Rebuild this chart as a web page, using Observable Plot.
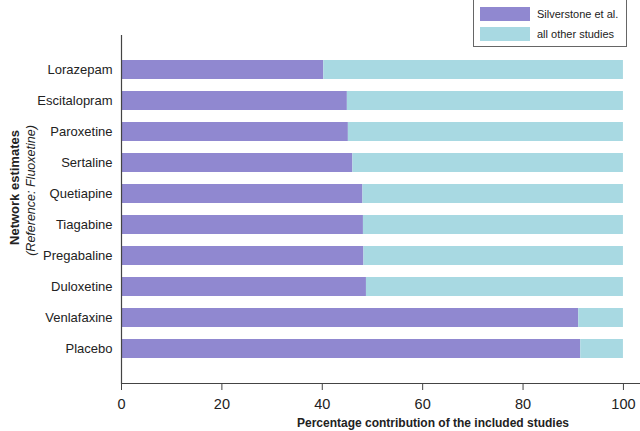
<!DOCTYPE html>
<html>
<head>
<meta charset="utf-8">
<script src="https://cdn.jsdelivr.net/npm/d3@7"></script>
<script src="https://cdn.jsdelivr.net/npm/@observablehq/plot@0.6"></script>
<style>
  html, body { margin: 0; padding: 0; background: #fff; }
  #wrap { position: relative; width: 640px; height: 431px; font-family: "Liberation Sans", Arial, sans-serif; }
  #legend { position: absolute; left: 473px; top: -1px; width: 152px; height: 46px; border: 1px solid #666; background: #fff; }
  .li { position: absolute; left: 6px; height: 14px; display: flex; align-items: center; font-size: 11px; color: #222; }
  .sw { width: 50px; height: 14px; margin-right: 7px; }
</style>
</head>
<body>
<div id="wrap"><div id="legend"></div></div>
<script>
const drugs = ["Lorazepam","Escitalopram","Paroxetine","Sertaline","Quetiapine","Tiagabine","Pregabaline","Duloxetine","Venlafaxine","Placebo"];
const silverstone = [40.3, 45.0, 45.2, 46.1, 48.1, 48.2, 48.3, 48.8, 91.1, 91.5];
const otherStudies = [59.7, 55.0, 54.8, 53.9, 51.9, 51.8, 51.7, 51.2, 8.9, 8.5];
const series = ["Silverstone et al.", "all other studies"];
const colors = ["#9088d0", "#a8d9e2"];
const xTicks = [0, 20, 40, 60, 80, 100];
const xLabel = "Percentage contribution of the included studies";
const yTitle = "Network estimates";
const ySubtitle = "(Reference: Fluoxetine)";

const data = drugs.flatMap((d, i) => [
  {drug: d, study: series[0], value: silverstone[i]},
  {drug: d, study: series[1], value: otherStudies[i]}
]);

const chart = Plot.plot({
  width: 640,
  height: 431,
  marginTop: 35,
  marginBottom: 48,
  marginLeft: 121,
  marginRight: 0,
  style: {fontFamily: "'Liberation Sans', Arial, sans-serif", color: "#222", background: "transparent"},
  x: {domain: [0, 103.4]},
  y: {domain: drugs, paddingInner: 0.4, paddingOuter: 0.68},
  color: {domain: series, range: colors},
  marks: [
    Plot.barX(data, Plot.stackX({x: "value", y: "drug", fill: "study", order: series})),
    Plot.ruleX([0], {stroke: "#444", strokeWidth: 1.2}),
    Plot.frame({anchor: "bottom", stroke: "#444", strokeWidth: 1.2}),
    Plot.axisX({ticks: xTicks, tickSize: 7, tickPadding: 8, fontSize: 14.5, label: null, stroke: "#444"}),
    Plot.axisY({tickSize: 0, tickPadding: 9, fontSize: 13, label: null}),
    Plot.text([xLabel], {frameAnchor: "bottom", dx: 52, dy: 43, fontSize: 12, fontWeight: "bold", text: d => d}),
    Plot.text([yTitle], {frameAnchor: "left", textAnchor: "middle", rotate: -90, dx: -107, dy: -22, fontSize: 13, fontWeight: "bold", text: d => d}),
    Plot.text([ySubtitle], {frameAnchor: "left", textAnchor: "middle", rotate: -90, dx: -91, dy: -19, fontSize: 12.5, fontStyle: "italic", text: d => d})
  ]
});
document.getElementById("wrap").prepend(chart);

const legend = document.getElementById("legend");
series.forEach((s, i) => {
  const row = document.createElement("div");
  row.className = "li";
  row.style.top = (7 + i * 20) + "px";
  const sw = document.createElement("div");
  sw.className = "sw";
  sw.style.background = colors[i];
  row.appendChild(sw);
  row.appendChild(document.createTextNode(s));
  legend.appendChild(row);
});
</script>
</body>
</html>
